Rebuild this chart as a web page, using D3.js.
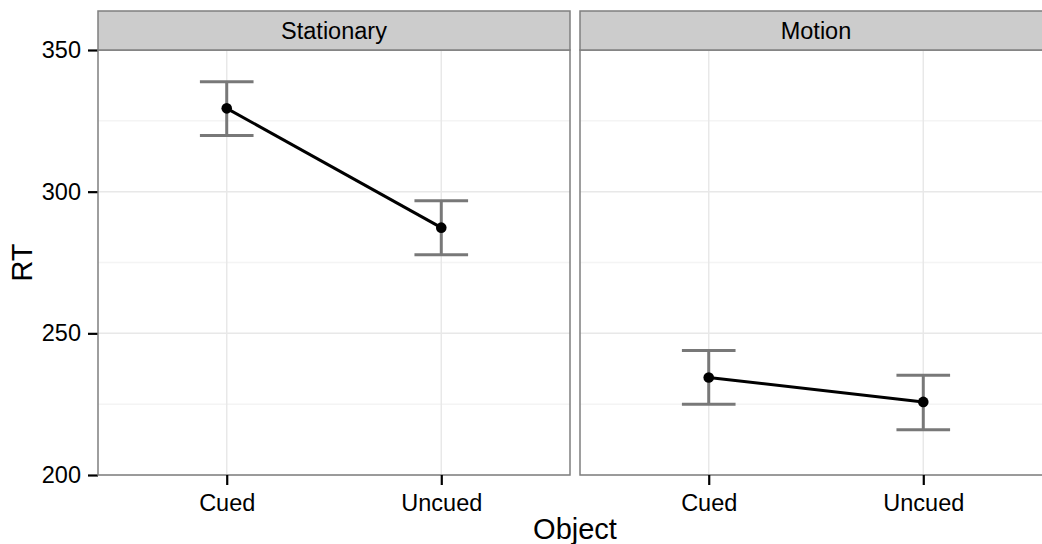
<!DOCTYPE html>
<meta charset="utf-8">
<script src="https://d3js.org/d3.v7.min.js"></script>
<style>
  body { margin: 0; background: #fff; }
  text { font-family: "Liberation Sans", Arial, Helvetica, sans-serif; }
</style>
<svg id="chart" width="1042" height="544"></svg>
<script>

// facets and categories
var panels = ["Stationary", "Motion"];
var objects = ["Cued", "Uncued"];

// mean RT per object, one array per facet
var rtStationary = [329.4, 287.3];
var rtMotion = [234.4, 225.8];

// error bar limits
var lowStationary = [319.8, 277.7];
var highStationary = [338.8, 296.8];
var lowMotion = [225.0, 216.0];
var highMotion = [243.9, 235.2];

var yTicks = [200, 250, 300, 350];
var yMinor = [225, 275, 325];

var series = {
  Stationary: { mean: rtStationary, low: lowStationary, high: highStationary },
  Motion: { mean: rtMotion, low: lowMotion, high: highMotion }
};

// layout
var plotLeft = 98, panelW = 472, gap = 10;
var stripTop = 11, panelTop = 50, panelBottom = 475;

var svg = d3.select("#chart");

var y = d3.scaleLinear()
  .domain([200, 350])
  .range([panelBottom, panelTop]);

var x = d3.scalePoint()
  .domain(objects)
  .range([0, panelW])
  .padding(0.6);

// y axis (left only)
var yAxis = svg.append("g")
  .attr("transform", "translate(" + plotLeft + ",0)")
  .call(d3.axisLeft(y).tickValues(yTicks).tickSize(10).tickPadding(7));
yAxis.select(".domain").remove();
yAxis.selectAll("line").attr("stroke", "#000").attr("stroke-width", 2.2);
yAxis.selectAll("text").attr("font-size", 23.5).attr("fill", "#000")
  .attr("font-family", "Liberation Sans, Arial, sans-serif");

panels.forEach(function(p, i) {
  var x0 = plotLeft + i * (panelW + gap);
  var g = svg.append("g").attr("transform", "translate(" + x0 + ",0)");
  var d = series[p];

  // minor grid
  g.selectAll(".minor").data(yMinor).enter().append("line")
    .attr("x1", 0).attr("x2", panelW)
    .attr("y1", function(v) { return y(v); })
    .attr("y2", function(v) { return y(v); })
    .attr("stroke", "#f4f4f4").attr("stroke-width", 1.5);

  // major grid
  g.selectAll(".major").data(yTicks).enter().append("line")
    .attr("x1", 0).attr("x2", panelW)
    .attr("y1", function(v) { return y(v); })
    .attr("y2", function(v) { return y(v); })
    .attr("stroke", "#e8e8e8").attr("stroke-width", 1.5);
  g.selectAll(".vgrid").data(objects).enter().append("line")
    .attr("x1", function(o) { return x(o); })
    .attr("x2", function(o) { return x(o); })
    .attr("y1", panelTop).attr("y2", panelBottom)
    .attr("stroke", "#e8e8e8").attr("stroke-width", 1.5);

  // error bars
  var capHalf = x.step() * 0.125;
  var eb = g.append("g").attr("stroke", "#787878").attr("stroke-width", 3);
  objects.forEach(function(o, j) {
    eb.append("line")
      .attr("x1", x(o)).attr("x2", x(o))
      .attr("y1", y(d.low[j])).attr("y2", y(d.high[j]));
    eb.append("line")
      .attr("x1", x(o) - capHalf).attr("x2", x(o) + capHalf)
      .attr("y1", y(d.low[j])).attr("y2", y(d.low[j]));
    eb.append("line")
      .attr("x1", x(o) - capHalf).attr("x2", x(o) + capHalf)
      .attr("y1", y(d.high[j])).attr("y2", y(d.high[j]));
  });

  // line connecting means
  g.append("path")
    .datum(objects)
    .attr("fill", "none")
    .attr("stroke", "#000")
    .attr("stroke-width", 3)
    .attr("d", d3.line()
      .x(function(o) { return x(o); })
      .y(function(o, j) { return y(d.mean[j]); }));

  g.selectAll(".pt").data(objects).enter().append("circle")
    .attr("cx", function(o) { return x(o); })
    .attr("cy", function(o, j) { return y(d.mean[j]); })
    .attr("r", 5.3)
    .attr("fill", "#000");

  // panel border
  g.append("rect")
    .attr("x", 0).attr("y", panelTop)
    .attr("width", panelW).attr("height", panelBottom - panelTop)
    .attr("fill", "none").attr("stroke", "#7f7f7f").attr("stroke-width", 1.5);

  // strip
  g.append("rect")
    .attr("x", 0).attr("y", stripTop)
    .attr("width", panelW).attr("height", panelTop - stripTop)
    .attr("fill", "#cccccc").attr("stroke", "#7f7f7f").attr("stroke-width", 1.5);
  g.append("text")
    .attr("x", panelW / 2).attr("y", (stripTop + panelTop) / 2)
    .attr("dy", "0.35em")
    .attr("text-anchor", "middle")
    .attr("font-size", 23.5)
    .text(p);

  // x axis
  var xa = g.append("g")
    .attr("transform", "translate(0," + panelBottom + ")")
    .call(d3.axisBottom(x).tickSize(10).tickPadding(9));
  xa.select(".domain").remove();
  xa.selectAll("line").attr("stroke", "#000").attr("stroke-width", 2.2);
  xa.selectAll("text").attr("font-size", 23.5).attr("fill", "#000")
    .attr("font-family", "Liberation Sans, Arial, sans-serif");
});

// axis titles
svg.append("text")
  .attr("x", plotLeft + panelW + gap / 2)
  .attr("y", 539)
  .attr("text-anchor", "middle")
  .attr("font-size", 29)
  .text("Object");

svg.append("text")
  .attr("transform", "translate(32," + (panelTop + panelBottom) / 2 + ") rotate(-90)")
  .attr("text-anchor", "middle")
  .attr("font-size", 29)
  .text("RT");

</script>
